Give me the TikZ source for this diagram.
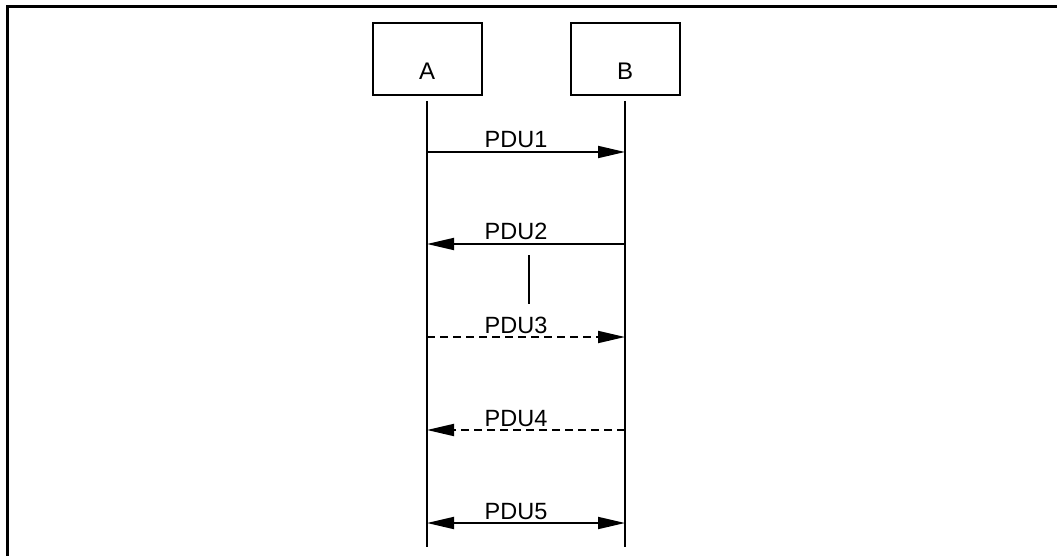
\documentclass[tikz,border=0pt]{standalone}
\usepackage{fontspec}
\setmainfont{Liberation Sans}
\usetikzlibrary{arrows.meta, positioning, calc}
\tikzset{
  ent/.style={
    rectangle, draw=black, line width=2pt,
    inner sep=0pt, minimum width=109pt,
    text height=57pt, text depth=15pt, anchor=base,
    font=\fontsize{24}{28}\selectfont
  },
  life/.style={line width=2pt},
  msg/.style={line width=1.8pt, -{Triangle[length=27pt, width=12pt]}},
  dmsg/.style={line width=1.8pt, {Triangle[length=27pt, width=12pt]}-{Triangle[length=27pt, width=12pt]}},
  dsh/.style={dash pattern=on 8pt off 5pt},
  pdu/.style={anchor=base, inner sep=0pt, xshift=-10pt, yshift=4pt,
    font=\fontsize{23.5}{28}\selectfont},
  frm/.style={line width=3pt}
}
\begin{document}
\begin{tikzpicture}[x=1pt, y=-1pt]
  \useasboundingbox (0,0) rectangle (1057,556);

  \draw[frm] (1057,7) -- (7,7) -- (7,556);

  \node[ent] (a) at (427,80) {A};
  \node[ent] (b) at (625,80) {B};

  \coordinate (aend) at (427,547);
  \coordinate (bend) at (625,547);
  \draw[life] ([yshift=-5pt]a.south) -- (aend);
  \draw[life] ([yshift=-5pt]b.south) -- (bend);

  \foreach \n/\y in {1/152, 2/244, 3/337, 4/430, 5/523} {
    \coordinate (a\n) at (427,\y);
    \coordinate (b\n) at (625,\y);
  }

  \draw[msg] (a1) -- node[pdu]{PDU1} (b1);
  \draw[msg] (b2) -- node[pdu]{PDU2} (a2);
  \draw[msg, dsh] (a3) -- node[pdu]{PDU3} (b3);
  \draw[msg, dsh] (b4) -- node[pdu]{PDU4} (a4);
  \draw[dmsg] (a5) -- node[pdu]{PDU5} (b5);

  \coordinate (gtop) at (529,255);
  \coordinate (gbot) at (529,304);
  \draw[life] (gtop) -- (gbot);

\end{tikzpicture}
\end{document}
